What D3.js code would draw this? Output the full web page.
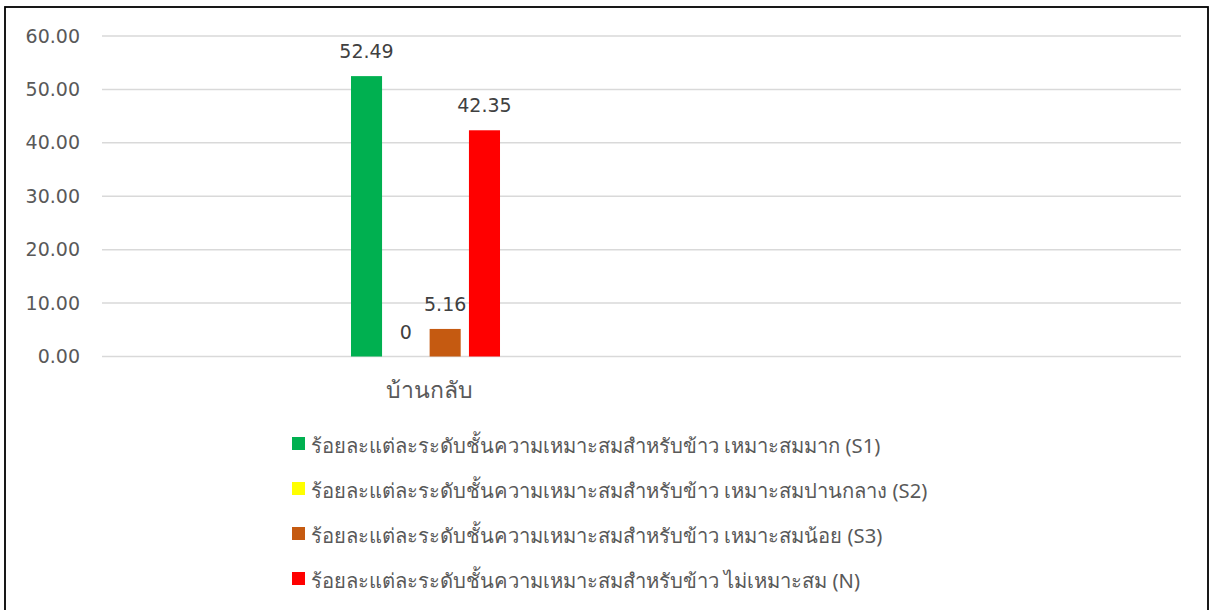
<!DOCTYPE html>
<html>
<head>
<meta charset="utf-8">
<script src="https://cdn.jsdelivr.net/npm/d3@7"></script>
<style>
    body { margin: 0; background: #ffffff; }
    svg text { font-family: "Noto Sans", "Open Sans", sans-serif; }
    svg text.num { font-family: "DejaVu Sans", sans-serif; }
</style>
</head>
<body>
<div id="chart"></div>
<script>

// Data
let categories = ["บ้านกลับ"];
let seriesNames = [
    "ร้อยละแต่ละระดับชั้นความเหมาะสมสำหรับข้าว เหมาะสมมาก (S1)",
    "ร้อยละแต่ละระดับชั้นความเหมาะสมสำหรับข้าว เหมาะสมปานกลาง (S2)",
    "ร้อยละแต่ละระดับชั้นความเหมาะสมสำหรับข้าว เหมาะสมน้อย (S3)",
    "ร้อยละแต่ละระดับชั้นความเหมาะสมสำหรับข้าว ไม่เหมาะสม (N)"
];
let seriesValues = [[52.49], [0], [5.16], [42.35]];
let valueLabels = [["52.49"], ["0"], ["5.16"], ["42.35"]];
let seriesColors = ["#00b050", "#ffff00", "#c55a11", "#ff0000"];
let yTicks = [0, 10, 20, 30, 40, 50, 60];

// dimensions
let W = 1210, H = 610;
let plot = {left: 102, right: 1181, top: 36, bottom: 356.5};
let catRight = 749; // category axis area

let svg = d3.select("#chart")
    .append("svg")
    .attr("width", W)
    .attr("height", H);

// outer border
svg.append("rect")
    .attr("x", 5)
    .attr("y", 7)
    .attr("width", 1203)
    .attr("height", 620)
    .attr("fill", "none")
    .attr("stroke", "#000")
    .attr("stroke-width", 1.8);

// scales
let y = d3.scaleLinear().domain([0, 60]).range([plot.bottom, plot.top]);

let x0 = d3.scaleBand()
    .domain(categories)
    .range([plot.left, catRight])
    .padding(0.6256);

let x1 = d3.scaleBand()
    .domain(d3.range(seriesNames.length))
    .range([0, x0.bandwidth()])
    .paddingInner(0.21)
    .paddingOuter(0);

// grid lines
svg.append("g")
    .selectAll("line")
    .data(yTicks)
    .enter()
    .append("line")
    .attr("x1", plot.left)
    .attr("x2", plot.right)
    .attr("y1", d => y(d))
    .attr("y2", d => y(d))
    .attr("stroke", "#d9d9d9")
    .attr("stroke-width", 1.5);

// y axis labels
let yAxis = svg.append("g")
    .attr("transform", "translate(" + (plot.left - 22) + ",0)")
    .call(d3.axisLeft(y).tickValues(yTicks).tickFormat(d3.format(".2f")).tickSize(0).tickPadding(0));
yAxis.select(".domain").remove();
yAxis.selectAll("text")
    .attr("class", "num")
    .style("font-size", "19px")
    .attr("fill", "#595959");

// x axis label
let xAxis = svg.append("g")
    .attr("transform", "translate(4," + (plot.bottom + 41.5) + ")")
    .call(d3.axisBottom(x0).tickSize(0).tickPadding(0));
xAxis.select(".domain").remove();
xAxis.selectAll("text")
    .attr("dy", "0")
    .style("font-size", "23px")
    .attr("fill", "#595959");

// bars
seriesNames.forEach(function (name, i) {
    let g = svg.append("g");
    g.selectAll("rect")
        .data(categories)
        .enter()
        .append("rect")
        .attr("x", (d, j) => x0(d) + x1(i))
        .attr("y", (d, j) => y(seriesValues[i][j]))
        .attr("width", x1.bandwidth())
        .attr("height", (d, j) => y(0) - y(seriesValues[i][j]))
        .attr("fill", seriesColors[i]);

    g.selectAll("text")
        .data(categories)
        .enter()
        .append("text")
        .attr("class", "num")
        .attr("x", (d, j) => x0(d) + x1(i) + x1.bandwidth() / 2)
        .attr("y", (d, j) => y(seriesValues[i][j]) - 18)
        .attr("text-anchor", "middle")
        .style("font-size", "19px")
        .attr("fill", "#404040")
        .text((d, j) => valueLabels[i][j]);
});

// legend
let legend = svg.append("g")
    .selectAll("g")
    .data(seriesNames)
    .enter()
    .append("g")
    .attr("transform", (d, i) => "translate(292," + (443.5 + i * 45) + ")");

legend.append("rect")
    .attr("x", 0)
    .attr("y", -6.5)
    .attr("width", 13)
    .attr("height", 13)
    .attr("fill", (d, i) => seriesColors[i]);

legend.append("text")
    .attr("x", 19)
    .attr("y", 0)
    .attr("dy", "0.47em")
    .style("font-size", "20.2px")
    .attr("fill", "#595959")
    .text(d => d);

</script>
</body>
</html>
